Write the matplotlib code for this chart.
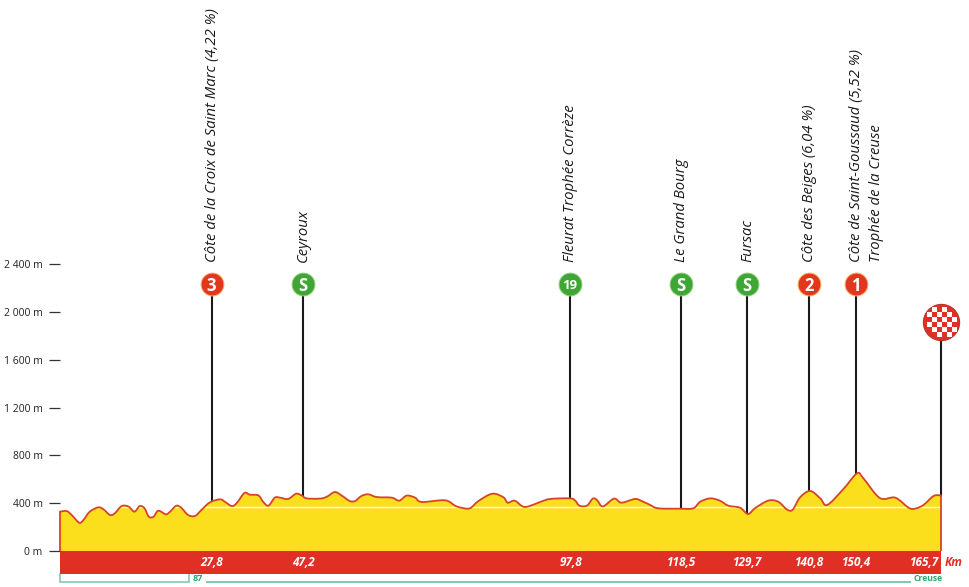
import numpy as np
import matplotlib
matplotlib.use('Agg')
import matplotlib.pyplot as plt
from matplotlib.path import Path
from matplotlib.patches import PathPatch
from matplotlib.transforms import Affine2D

plt.rcParams['font.family'] = ['Open Sans', 'DejaVu Sans']

# Elevation profile
profile_km = [0, 1.25, 2.2, 3.6, 4.4, 5.6, 7.2, 8.2, 9.4, 10.3, 11.6, 12.9, 14.0, 15.0, 15.9, 16.7, 17.6, 18.5,
              19.9, 20.7, 21.9, 22.9, 24.1, 25.4, 26.6, 28.2, 30.1, 31.0, 32.3, 33.2, 34.7, 35.7, 37.3, 38.2,
              39.2, 40.4, 41.4, 42.9, 44.4, 45.5, 46.4, 48.9, 50.2, 51.7, 53.0, 54.5, 55.5, 56.7, 58.0, 59.6,
              62.4, 63.8, 65.2, 66.8, 68.0, 72.4, 74.3, 75.5, 77.1, 78.7, 81.3, 83.4, 84.2, 85.5, 87.0, 88.1,
              90.3, 92.2, 95.9, 96.9, 97.7, 99.1, 100.2, 101.0, 102.1, 104.2, 105.6, 108.1, 109.4, 111.0, 112.5,
              116.6, 119.1, 120.4, 122.3, 124.1, 125.7, 127.9, 129.4, 130.7, 133.2, 135.1, 136.7, 137.8, 139.2,
              141.1, 143.0, 144.3, 147.3, 149.9, 151.1, 154.2, 157.1, 159.6, 160.8, 162.4, 164.3, 165.7]
profile_m = [329, 334, 301, 237, 259, 329, 365, 348, 301, 315, 376, 371, 329, 376, 357, 287, 287, 337,
             307, 329, 379, 357, 301, 293, 343, 407, 432, 412, 376, 399, 485, 471, 465, 412,
             379, 446, 446, 435, 479, 463, 440, 438, 454, 493, 463, 418, 418, 460, 474, 451,
             446, 421, 463, 446, 410, 424, 379, 362, 357, 418, 479, 449, 404, 421, 373, 373,
             410, 435, 440, 421, 379, 379, 438, 426, 373, 438, 404, 435, 418, 385, 357,
             354, 357, 412, 440, 421, 379, 362, 309, 357, 421, 412, 348, 345, 449,
             502, 440, 385, 516, 649, 608, 443, 446, 362, 354, 385, 460, 465]

# Passing points on the route
pole_km = [28.5, 45.7, 95.9, 116.8, 129.2, 140.9, 149.7]
pole_top_m = [2232, 2232, 2232, 2232, 2232, 2232, 2232]
pole_icons = ['3', 'S', '19', 'S', 'S', '2', '1']
pole_colors = ['#e2371f', '#3fa535', '#3fa535', '#3fa535', '#3fa535', '#e2371f', '#e2371f']
pole_names = ['Côte de la Croix de Saint Marc (4,22 %)', 'Ceyroux', 'Fleurat Trophée Corrèze', 'Le Grand Bourg',
              'Fursac', 'Côte des Beiges (6,04 %)', 'Côte de Saint-Goussaud (5,52 %)\nTrophée de la Creuse']
km_labels = ['27,8', '47,2', '97,8', '118,5', '129,7', '140,8', '150,4']

finish_km = 165.7
finish_label = '165,7'
finish_top_m = 1917

y_ticks = [0, 400, 800, 1200, 1600, 2000, 2400]
y_labels = ['0 m', '400 m', '800 m', '1 200 m', '1 600 m', '2 000 m', '2 400 m']

band_m = -190
white_line_m = 368
green = '#86c8ad'
green_text = '#2fa56f'


def smooth_profile(xs, ys):
    # Catmull-Rom through the read points, closed down to 0 m
    pts = np.column_stack([xs, ys])
    verts = [(xs[0], 0), pts[0]]
    codes = [Path.MOVETO, Path.LINETO]
    for i in range(len(pts) - 1):
        p0 = pts[max(i - 1, 0)]
        p1 = pts[i]
        p2 = pts[i + 1]
        p3 = pts[min(i + 2, len(pts) - 1)]
        verts += [p1 + (p2 - p0) / 6, p2 - (p3 - p1) / 6, p2]
        codes += [Path.CURVE4] * 3
    verts.append((xs[-1], 0))
    codes.append(Path.LINETO)
    return Path(verts, codes)


fig = plt.figure(figsize=(9.7, 5.87), dpi=100)
ax = fig.add_axes([60 / 970, (587 - 551) / 587, 881 / 970, 287 / 587])
ax.set_xlim(0, finish_km)
ax.set_ylim(0, 2400)
for spine in ax.spines.values():
    spine.set_visible(False)
ax.set_xticks([])
ax.set_yticks(y_ticks)
ax.set_yticklabels(y_labels, fontsize=7.5, color='#222222')
ax.tick_params(axis='y', length=8, width=0.9, color='#333333', pad=4.5)

# Profile and the km band below it
outline = smooth_profile(profile_km, profile_m)
fill = PathPatch(outline, facecolor='#fcdf1c', edgecolor='none', zorder=2)
ax.add_patch(fill)
white = ax.axhline(white_line_m, color='white', lw=1, zorder=2.5)
white.set_clip_path(fill)
ax.add_patch(PathPatch(outline, facecolor='none', edgecolor='#d6432a', lw=1.3, zorder=3, clip_on=False))
ax.fill_between([0, finish_km], band_m, 0, color='#e03026', lw=0, zorder=3, clip_on=False)
ax.plot([0, finish_km], [0, 0], color='#f08a1d', lw=0.9, zorder=4)

# Poles, icons and names
for km, top, icon, color, name, label in zip(pole_km, pole_top_m, pole_icons, pole_colors, pole_names, km_labels):
    ax.plot([km, km], [np.interp(km, profile_km, profile_m), top], color='#1a1a1a', lw=1.5, zorder=1)
    ax.scatter([km], [top], s=270, color=color, edgecolors='#f7b267' if color == '#e2371f' else '#8fcf7a',
               linewidths=0.7, zorder=5, clip_on=False)
    ax.annotate(icon, (km, top), ha='center', va='center_baseline', color='white', zorder=6,
                fontsize=9.5 if len(icon) > 1 else 12, fontweight='bold')
    # the two-line name sits right of its pole
    shift = 7.5 if '\n' in name else 0.5
    ax.annotate(name, (km, top), xytext=(shift, 16), textcoords='offset points', rotation=90, ha='left', va='center',
                rotation_mode='anchor', fontsize=10.7, fontstyle='italic', color='#1a1a1a', annotation_clip=False,
                linespacing=1.5)
    ax.text(km + 0.1, band_m / 2, label, ha='center', va='center', color='white', fontsize=8.5, fontweight='bold',
            fontstyle='italic', zorder=6)

# Finish
ax.plot([finish_km, finish_km], [profile_m[-1], finish_top_m], color='#1a1a1a', lw=1.5, zorder=1, clip_on=False)
ax.scatter([finish_km], [finish_top_m], s=680, color='#e03026', edgecolors='#b8352a', linewidths=0.8, zorder=5,
           clip_on=False)
for i in range(-3, 3):
    for j in range(-3, 3):
        if (i + j) % 2 == 0 and not (i in (-3, 2) and j in (-3, 2)):
            ax.plot([finish_km], [finish_top_m], marker='s', ms=3.6, mew=0, color='white', zorder=6, clip_on=False,
                    transform=ax.transData + Affine2D().translate((i + 0.5) * 5, (j + 0.5) * 5))
ax.text(finish_km - 3, band_m / 2, finish_label, ha='center', va='center', color='white', fontsize=8.5,
        fontweight='bold', fontstyle='italic', zorder=6)
ax.text(finish_km + 0.7, band_m / 2, 'Km', ha='left', va='center', color='#e03026', fontsize=8.5, fontweight='bold',
        fontstyle='italic', clip_on=False)

# Department brackets
ax.plot([0, 0, 24.3, 24.3], [-195, -257, -257, -195], color=green, lw=1.2, clip_on=False, solid_joinstyle='miter')
ax.text(24.9, -226, '87', color=green_text, fontsize=6.5, fontweight='bold', va='center', ha='left')
ax.plot([27.6, 159.9], [-257, -257], color=green, lw=1.5, clip_on=False)
ax.text(160.5, -232, 'Creuse', color=green_text, fontsize=6.2, fontweight='bold', va='center', ha='left')

fig.savefig('out.png', dpi=100)
